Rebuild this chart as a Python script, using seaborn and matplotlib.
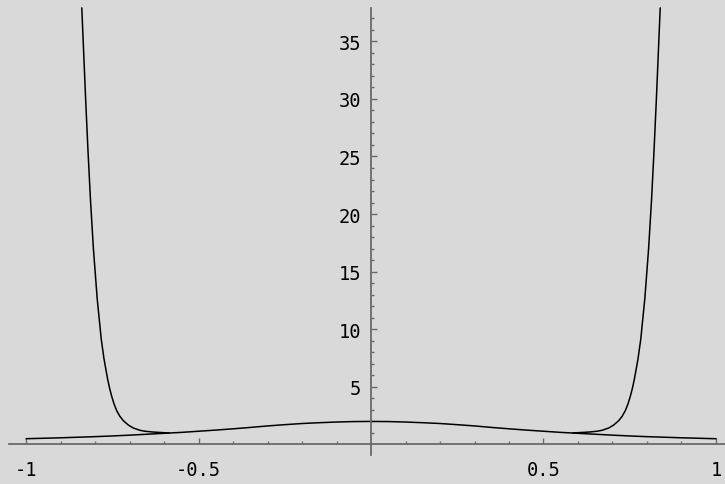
import matplotlib
matplotlib.use("Agg")
import matplotlib.pyplot as plt
import seaborn as sns
import pandas as pd
from matplotlib.ticker import FixedLocator

# Flat (bell-shaped) curve (x >= 0 half; mirrored)
flat_abs_x = [0.0, 0.05, 0.1, 0.15, 0.2, 0.25, 0.3, 0.35, 0.4, 0.45, 0.5,
              0.55, 0.6, 0.65, 0.7, 0.75, 0.8, 0.85, 0.9, 0.95, 1.0]
flat_abs_y = [2.00, 1.99, 1.95, 1.89, 1.82, 1.72, 1.61, 1.48, 1.36, 1.25, 1.15,
              1.05, 0.97, 0.89, 0.81, 0.74, 0.68, 0.63, 0.58, 0.54, 0.50]

# Steep curve branches (|x| -> y)
steep_abs_x = [0.585, 0.6212, 0.6357, 0.6551, 0.6696, 0.6890, 0.7035, 0.7180,
               0.7278, 0.7371, 0.7449, 0.7522, 0.7577, 0.7635, 0.7739, 0.7820,
               0.7936, 0.8046, 0.8133, 0.8206, 0.8272, 0.8333, 0.8383]
steep_y = [1.00, 1.06, 1.09, 1.15, 1.23, 1.43, 1.69, 2.07,
           2.44, 2.93, 3.52, 4.24, 4.88, 5.69, 7.42, 9.16,
           12.63, 16.97, 21.31, 25.65, 30.0, 34.33, 37.9]

xtick_vals = [-1, -0.5, 0.5, 1]
xtick_labels = ["-1", "-0.5", "0.5", "1"]
ytick_vals = [5, 10, 15, 20, 25, 30, 35]
ytick_labels = ["5", "10", "15", "20", "25", "30", "35"]

sns.set_style("white")
plt.rcParams['font.family'] = ['DejaVu Sans Mono', 'DejaVu Sans']

bg = "#d9d9d9"
axis_col = "#6a6a6a"

fig = plt.figure(figsize=(7.25, 4.85), dpi=100, facecolor=bg)
ax = fig.add_axes([0, 0, 1, 1])
ax.set_facecolor(bg)

flat_x = [-v for v in flat_abs_x[:0:-1]] + flat_abs_x
flat_y = flat_abs_y[:0:-1] + flat_abs_y
flat_df = pd.DataFrame({"x": flat_x, "y": flat_y})
left_df = pd.DataFrame({"x": [-v for v in steep_abs_x], "y": steep_y})
right_df = pd.DataFrame({"x": steep_abs_x, "y": steep_y})

for df in (flat_df, left_df, right_df):
    sns.lineplot(data=df, x="x", y="y", ax=ax, color="black", lw=1.1,
                 sort=False, estimator=None)

ax.set_xlim(-1.0754, 1.0261)
ax.set_ylim(-3.43, 38.67)
ax.set_xlabel("")
ax.set_ylabel("")

for s in ("top", "right"):
    ax.spines[s].set_visible(False)
ax.spines["left"].set_position(("data", 0))
ax.spines["bottom"].set_position(("data", 0))
for s in ("left", "bottom"):
    ax.spines[s].set_visible(True)
    ax.spines[s].set_color(axis_col)
    ax.spines[s].set_linewidth(1.3)
ax.spines["left"].set_bounds(-0.9, 37.9)
ax.spines["bottom"].set_bounds(-1.05, 1.03)

ax.xaxis.set_major_locator(FixedLocator(xtick_vals))
ax.set_xticklabels(xtick_labels)
ax.xaxis.set_minor_locator(FixedLocator([v / 10 for v in range(-10, 11)
                                         if v % 5 != 0]))
ax.yaxis.set_major_locator(FixedLocator(ytick_vals))
ax.set_yticklabels(ytick_labels)
ax.yaxis.set_minor_locator(FixedLocator([v for v in range(1, 38) if v % 5 != 0]))

ax.tick_params(axis="x", which="major", direction="in", length=4.5, width=1,
               color=axis_col, labelsize=13.5, labelcolor="black", pad=11,
               bottom=True)
ax.tick_params(axis="x", which="minor", direction="in", length=2.5, width=1,
               color=axis_col, bottom=True)
ax.tick_params(axis="y", which="major", direction="in", length=4.5, width=1,
               color=axis_col, labelsize=13.5, labelcolor="black", pad=7,
               left=True)
ax.tick_params(axis="y", which="minor", direction="in", length=2.5, width=1,
               color=axis_col, left=True)

fig.savefig("out.png", dpi=100, facecolor=bg)
